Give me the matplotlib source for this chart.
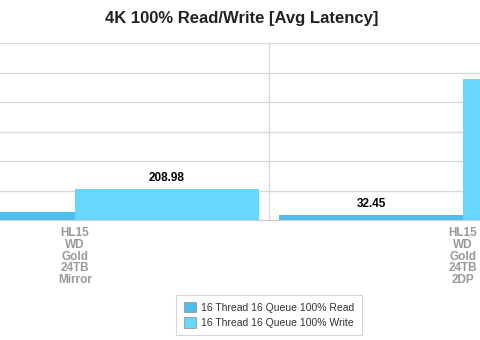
import matplotlib.pyplot as plt
import numpy as np

plt.rcParams['font.family'] = ['Liberation Sans', 'DejaVu Sans']

# data
categories = ["HL15\nWD\nGold\n24TB\nMirror", "HL15\nWD\nGold\n24TB\n2DP"]
read_latency = [52.0, 32.45]
write_latency = [208.98, 959.0]
series_names = ["16 Thread 16 Queue 100% Read", "16 Thread 16 Queue 100% Write"]
colors = ["#4dbdeb", "#66d7ff"]

fig = plt.figure(figsize=(4.8, 3.4), dpi=100)
# plot area is wider than the image (cropped view)
ax = fig.add_axes([0, 120 / 340, 1, (220 - 43.3) / 340])

x = np.arange(len(categories))
w = 0.474
b1 = ax.bar(x - w / 2, read_latency, w, color=colors[0], label=series_names[0], zorder=2)
b2 = ax.bar(x + w / 2, write_latency, w, color=colors[1], label=series_names[1], zorder=2)

# labels of bars whose centre is outside the view get clipped
for bars, vals in ((b1, read_latency), (b2, write_latency)):
    for bar, v in zip(bars, vals):
        ax.annotate(f"{v:.2f}", (bar.get_x() + bar.get_width() / 2, v),
                    xytext=(0, 3.5), textcoords="offset points", ha="center", va="bottom",
                    fontsize=8.5, fontweight="bold", color="#000000", annotation_clip=True)

ax.set_yticks(np.arange(0, 1201, 200))
ax.set_yticklabels([])
ax.tick_params(axis="y", length=0)
ax.set_xticks(x)
ax.set_xticklabels(categories, fontsize=8.5, fontweight="bold", color="#999999", linespacing=0.98)
ax.tick_params(axis="x", length=0, pad=5)
ax.set_xticks([-0.5, 0.5, 1.5], minor=True)
ax.tick_params(axis="x", which="minor", length=0)
ax.set_xlim(-75 / 388, 405 / 388)
ax.set_ylim(0, 1200)

ax.grid(axis="y", color="#d9d9d9", linewidth=1, zorder=0)
ax.grid(axis="x", which="minor", color="#d9d9d9", linewidth=1, zorder=0)
ax.grid(axis="x", which="major", visible=False)
for s in ["top", "left", "right"]:
    ax.spines[s].set_visible(False)
ax.spines["bottom"].set_color("#cccccc")

fig.text(242 / 480, 1 - 18 / 340, "4K 100% Read/Write [Avg Latency]", ha="center", va="center",
         fontsize=12, fontweight="bold", color="#222222")

leg = fig.legend(handles=[b1, b2], loc="center", bbox_to_anchor=(269 / 480, 1 - 315 / 340),
                 fontsize=7.5, frameon=True, fancybox=False, edgecolor="#cccccc",
                 handlelength=1.2, handleheight=1.2, handletextpad=0.5, labelspacing=0.45,
                 borderpad=0.7, borderaxespad=0, labelcolor="#333333")
leg.get_frame().set_linewidth(0.8)
for h in leg.legend_handles:
    h.set_edgecolor("#999999")
    h.set_linewidth(0.6)

fig.savefig("out.png", dpi=100)
